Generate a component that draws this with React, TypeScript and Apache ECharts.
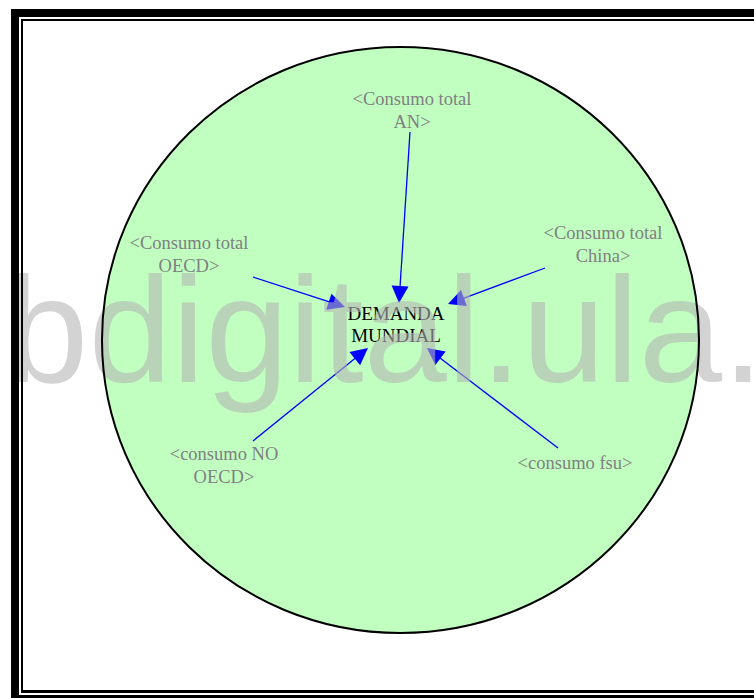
import React, { useEffect, useRef } from 'react';
import * as echarts from 'echarts';

// ---- content ----
const sourceLabels = [
  '<Consumo total\nAN>',
  '<Consumo total\nOECD>',
  '<Consumo total\nChina>',
  '<consumo NO\nOECD>',
  '<consumo fsu>',
];
const targetLabel = 'DEMANDA\nMUNDIAL';
const watermarkText = 'bdigital.ula.ve';

// ---- layout (diagram positions, page pixels) ----
const labelPos = [
  [412, 110],
  [189, 254.5],
  [603, 244.5],
  [224, 465],
  [575, 463],
];
const targetPos = [396, 324];
const arrowStart = [
  [410, 132],
  [253, 277],
  [545, 268],
  [253, 441],
  [558, 448],
];
const arrowTip = [
  [399, 303],
  [345, 307],
  [448, 304],
  [368, 348],
  [427, 348],
];

const W = 754;
const H = 698;
const ARROW_W = 11;
const ARROW_H = 17;

export default function App() {
  const ref = useRef<HTMLDivElement>(null);
  useEffect(() => {
    if (!ref.current) return;
    const chart = echarts.init(ref.current, null, { renderer: 'svg' });

    const linesData = arrowStart.map((s, i) => {
      const t = arrowTip[i];
      const dx = t[0] - s[0];
      const dy = t[1] - s[1];
      const len = Math.sqrt(dx * dx + dy * dy);
      const end = [t[0] - (dx / len) * (ARROW_H / 2), t[1] - (dy / len) * (ARROW_H / 2)];
      return { coords: [s, end] };
    });

    const serif = '"Liberation Serif", "Times New Roman", serif';

    const graphics: any[] = [
      {
        type: 'ellipse',
        shape: { cx: 400.5, cy: 340, rx: 298.5, ry: 293 },
        style: { fill: '#c1ffc1', stroke: 'none' },
        z: 0,
        silent: true,
      },
      ...sourceLabels.map((txt, i) => ({
        type: 'text',
        x: labelPos[i][0],
        y: labelPos[i][1],
        z: 3,
        style: {
          text: txt,
          fill: '#808080',
          fontSize: 18.5,
          fontFamily: serif,
          align: 'center',
          verticalAlign: 'middle',
          lineHeight: 23,
        },
      })),
      {
        type: 'text',
        x: targetPos[0],
        y: targetPos[1],
        z: 3,
        style: {
          text: targetLabel,
          fill: '#000000',
          fontSize: 19,
          fontFamily: serif,
          align: 'center',
          verticalAlign: 'middle',
          lineHeight: 22,
        },
      },
      {
        type: 'text',
        x: 5,
        y: 330,
        z: 10,
        silent: true,
        style: {
          text: watermarkText,
          fill: 'rgba(180,180,180,0.59)',
          fontSize: 150,
          fontFamily: '"Liberation Sans", Arial, sans-serif',
          align: 'left',
          verticalAlign: 'middle',
        },
      },
      {
        type: 'ellipse',
        shape: { cx: 400.5, cy: 340, rx: 298.5, ry: 293 },
        style: { fill: 'none', stroke: '#000', lineWidth: 2 },
        z: 11,
        silent: true,
      },
      // frame
      { type: 'rect', shape: { x: 11, y: 9, width: 760, height: 8 }, style: { fill: '#000' }, z: 12 },
      { type: 'rect', shape: { x: 11, y: 9, width: 8, height: 700 }, style: { fill: '#000' }, z: 12 },
      { type: 'rect', shape: { x: 21, y: 19, width: 2, height: 674 }, style: { fill: '#000' }, z: 12 },
      { type: 'rect', shape: { x: 21, y: 19, width: 740, height: 2 }, style: { fill: '#000' }, z: 12 },
      { type: 'rect', shape: { x: 21, y: 690, width: 740, height: 3 }, style: { fill: '#000' }, z: 12 },
      { type: 'rect', shape: { x: 19, y: 695, width: 740, height: 3 }, style: { fill: '#000' }, z: 12 },
    ];

    chart.setOption({
      animation: false,
      backgroundColor: '#ffffff',
      grid: { left: 0, right: 0, top: 0, bottom: 0 },
      xAxis: { type: 'value', min: 0, max: W, show: false },
      yAxis: { type: 'value', min: 0, max: H, inverse: true, show: false },
      graphic: graphics,
      series: [
        {
          type: 'lines',
          coordinateSystem: 'cartesian2d',
          z: 2,
          symbol: ['none', 'triangle'],
          symbolSize: [ARROW_W, ARROW_H],
          lineStyle: { color: '#0000ff', width: 1.3, opacity: 1, curveness: 0 },
          itemStyle: { color: '#0000ff', opacity: 1 },
          data: linesData,
          silent: true,
        },
      ],
    });
    return () => chart.dispose();
  }, []);

  return (
    <div
      ref={ref}
      style={{ position: 'absolute', left: 0, top: 0, width: W, height: H }}
    />
  );
}
